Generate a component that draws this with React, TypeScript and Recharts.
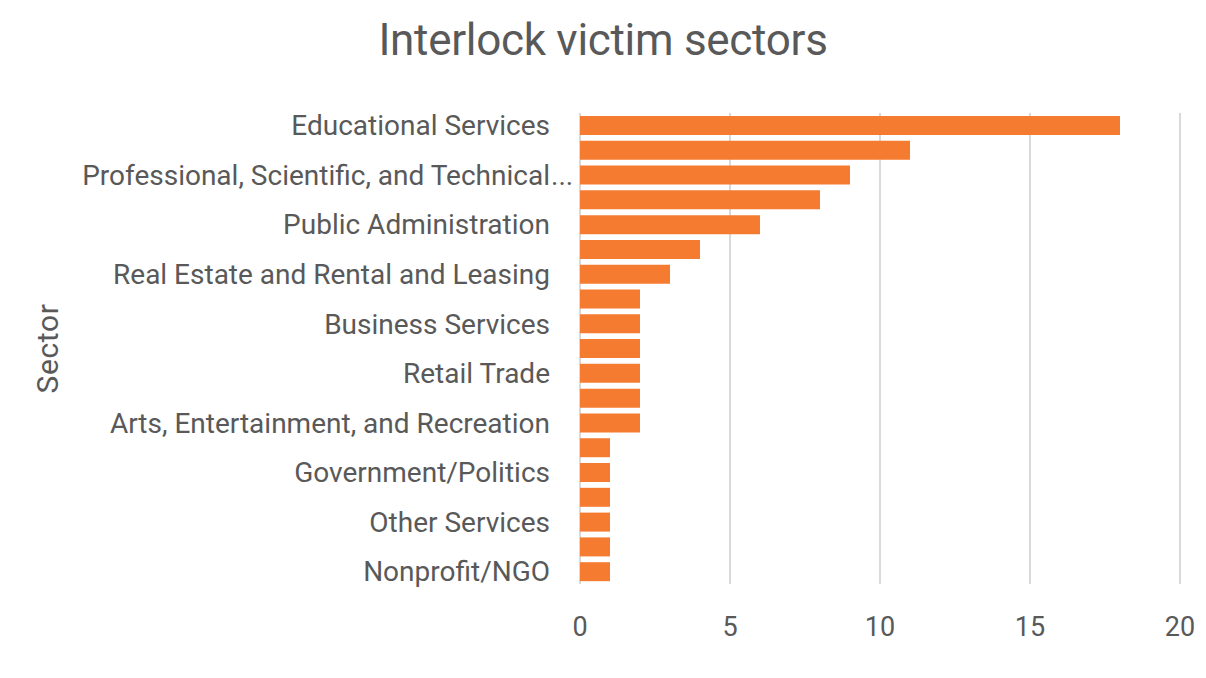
import { Bar, BarChart, CartesianGrid, XAxis, YAxis } from "recharts";

const sectors = [
  "Educational Services",
  "Health Care and Social Assistance",
  "Professional, Scientific, and Technical Services",
  "Manufacturing",
  "Public Administration",
  "Finance and Insurance",
  "Real Estate and Rental and Leasing",
  "Information",
  "Business Services",
  "Construction",
  "Retail Trade",
  "Transportation and Warehousing",
  "Arts, Entertainment, and Recreation",
  "Wholesale Trade",
  "Government/Politics",
  "Utilities",
  "Other Services",
  "Technology",
  "Nonprofit/NGO",
];
const victims = [18, 11, 9, 8, 6, 4, 3, 2, 2, 2, 2, 2, 2, 1, 1, 1, 1, 1, 1];
const xTicks = [0, 5, 10, 15, 20];

const data = sectors.map((sector, i) => ({ sector, victims: victims[i] }));

const FONT = "Roboto, sans-serif";
const GREY = "#595959";
const MAX_LEN = 40;

// long names get cut like Excel does, with the dots running past the label edge
const SectorTick = (props: any) => {
  const { x, y, payload } = props;
  const name: string = payload.value;
  const long = name.length > MAX_LEN;
  const shown = long ? name.slice(0, MAX_LEN - 1) : name;
  return (
    <g>
      <text x={x} y={y} dy="0.35em" textAnchor="end" fill={GREY} fontSize={28} fontFamily={FONT}>
        {shown}
      </text>
      {long && (
        <text x={x + 1} y={y} dy="0.35em" textAnchor="start" fill={GREY} fontSize={28} fontFamily={FONT}>
          ...
        </text>
      )}
    </g>
  );
};

export default function App() {
  return (
    <div style={{ position: "absolute", left: 0, top: 0, width: 1206, height: 678, background: "#fff", fontFamily: FONT }}>
      <div
        style={{
          position: "absolute",
          top: 14,
          width: "100%",
          textAlign: "center",
          fontSize: 44,
          color: GREY,
          letterSpacing: -0.3,
        }}
      >
        Interlock victim sectors
      </div>
      <BarChart
        width={1206}
        height={678}
        data={data}
        layout="vertical"
        margin={{ top: 113, right: 26, bottom: 64, left: 32 }}
        barCategoryGap="12%"
      >
        <CartesianGrid horizontal={false} stroke="#d9d9d9" strokeWidth={2} />
        <XAxis
          type="number"
          domain={[0, 20]}
          ticks={xTicks}
          height={30}
          axisLine={false}
          tickLine={false}
          tickMargin={27}
          tick={{ fill: GREY, fontSize: 27, fontFamily: FONT }}
        />
        <YAxis
          type="category"
          dataKey="sector"
          width={548}
          interval={1}
          axisLine={false}
          tickLine={false}
          tickSize={0}
          tickMargin={30}
          tick={<SectorTick />}
          label={{
            value: "Sector",
            angle: -90,
            position: "insideLeft",
            offset: 15,
            style: { fill: GREY, fontSize: 30, fontFamily: FONT, letterSpacing: 0.6, textAnchor: "middle" },
          }}
        />
        <Bar dataKey="victims" fill="#f47b30" isAnimationActive={false} />
      </BarChart>
    </div>
  );
}
